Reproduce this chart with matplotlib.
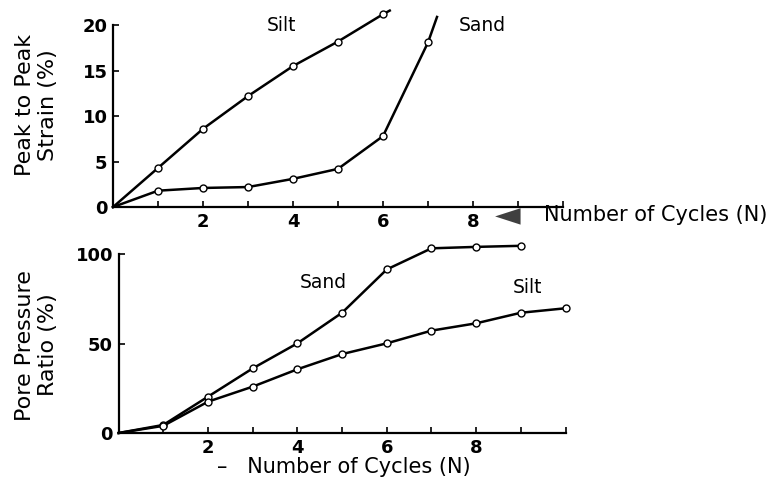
import numpy as np
import matplotlib
matplotlib.use("Agg")
import matplotlib.pyplot as plt

# cyclic test results: silt vs sand
# top panel - peak to peak strain (%)
strain_silt_n = [0, 1, 2, 3, 4, 5, 6, 6.15]
strain_silt = [0, 4.3, 8.6, 12.2, 15.5, 18.2, 21.2, 21.6]
strain_sand_n = [0, 1, 2, 3, 4, 5, 6, 7, 7.2]
strain_sand = [0, 1.8, 2.1, 2.2, 3.1, 4.2, 7.8, 18.1, 20.9]

# bottom panel - pore pressure ratio (%)
pore_sand_n = [0, 1, 2, 3, 4, 5, 6, 7, 8, 9]
pore_sand = [0, 4.5, 20.3, 36.1, 50.1, 67.2, 91.4, 103.2, 104.0, 104.6]
pore_silt_n = [0, 1, 2, 3, 4, 5, 6, 7, 8, 9, 10]
pore_silt = [0, 4.0, 17.5, 25.9, 35.6, 44.1, 50.1, 57.2, 61.3, 67.2, 69.7]

x_ticks = [1, 2, 3, 4, 5, 6, 7, 8, 9, 10]
x_ticklabels = ["", "2", "", "4", "", "6", "", "8", "", ""]
strain_ticks = [0, 5, 10, 15, 20]
pore_ticks = [0, 50, 100]

TICKFONT = dict(family="DejaVu Sans", weight="bold", size=13)
LABELFONT = dict(family="DejaVu Sans", size=13.5)
AXFONT = dict(family="DejaVu Sans", size=16)


def style_axes(ax, ytop):
    for s in ["top", "right"]:
        ax.spines[s].set_visible(False)
    ax.spines["left"].set_bounds(0, ytop)
    ax.spines["bottom"].set_bounds(0, 10)
    ax.spines["left"].set_linewidth(1.6)
    ax.spines["bottom"].set_linewidth(1.6)
    ax.set_xlim(0, 10.2)
    ax.set_xticks(x_ticks)
    ax.set_xticklabels(x_ticklabels, fontdict=TICKFONT)
    ax.tick_params(direction="in", length=4, width=1.2, pad=4)
    ax.patch.set_visible(False)


def plot_curve(ax, n, y, nmark):
    ax.plot(n, y, "-", color="black", lw=1.8, clip_on=False,
            marker="o", ms=5, mfc="white", mec="black", mew=1.0,
            markevery=list(range(1, nmark)))


fig = plt.figure(figsize=(7.74, 4.93), dpi=100)

# top panel
ax0 = fig.add_axes([0.146, 0.580, 0.5814 * 1.02, 0.369 * 1.1])
style_axes(ax0, 20)
ax0.set_ylim(0, 22)
ax0.set_yticks(strain_ticks)
ax0.set_yticklabels([str(t) for t in strain_ticks], fontdict=TICKFONT)
plot_curve(ax0, strain_silt_n, strain_silt, 7)
plot_curve(ax0, strain_sand_n, strain_sand, 8)
ax0.text(3.75, 20.0, "Silt", ha="center", va="center", **LABELFONT)
ax0.text(8.2, 20.0, "Sand", ha="center", va="center", **LABELFONT)

# bottom panel
ax1 = fig.add_axes([0.1532, 0.1217, 0.5775 * 1.02, 0.363 * 1.08])
style_axes(ax1, 100)
ax1.set_ylim(0, 108)
ax1.set_yticks(pore_ticks)
ax1.set_yticklabels([str(t) for t in pore_ticks], fontdict=TICKFONT)
plot_curve(ax1, pore_sand_n, pore_sand, 10)
plot_curve(ax1, pore_silt_n, pore_silt, 11)
ax1.text(4.57, 84, "Sand", ha="center", va="center", **LABELFONT)
ax1.text(9.15, 81.5, "Silt", ha="center", va="center", **LABELFONT)

# axis titles
fig.text(0.047, 0.787, "Peak to Peak\nStrain (%)", rotation=90,
         ha="center", va="center", multialignment="center",
         linespacing=1.15, **AXFONT)
fig.text(0.047, 0.300, "Pore Pressure\nRatio (%)", rotation=90,
         ha="center", va="center", multialignment="center",
         linespacing=1.15, **AXFONT)

fig.text(0.656, 0.563, "\u25c4", ha="center", va="center",
         color="#404040", fontsize=24, family="DejaVu Sans")
fig.text(0.703, 0.563, "Number of Cycles (N)", ha="left", va="center",
         family="DejaVu Sans", size=15)
fig.text(0.280, 0.053, "\u2013   Number of Cycles (N)", ha="left", va="center",
         family="DejaVu Sans", size=15)

fig.savefig("out.png", dpi=100)
